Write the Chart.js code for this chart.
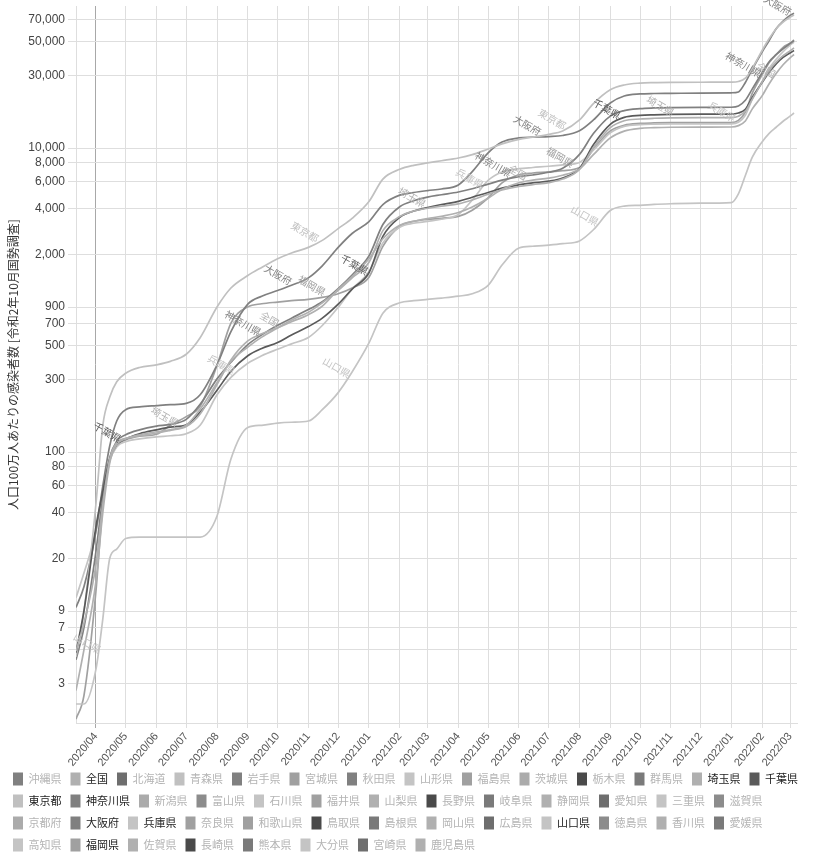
<!DOCTYPE html>
<html lang="ja">
<head>
<meta charset="utf-8">
<title>人口100万人あたりの感染者数</title>
<script src="https://cdn.jsdelivr.net/npm/chart.js@4.4.1/dist/chart.umd.min.js"></script>
<style>
  body { margin: 0; background: #fff; }
  canvas { display: block; }
</style>
</head>
<body>
<canvas id="myChart" width="815" height="852"></canvas>
<script>
'use strict';

// days the cumulative counts (per million people) were read at
let sampleDates = [
  '2020-03-12', '2020-03-20', '2020-04-01', '2020-04-08', '2020-04-15', '2020-04-22',
  '2020-05-01', '2020-05-15', '2020-06-01', '2020-06-15', '2020-07-01', '2020-07-15',
  '2020-08-01', '2020-08-15', '2020-09-01', '2020-09-15', '2020-10-01', '2020-10-15',
  '2020-11-01', '2020-11-15', '2020-12-01', '2020-12-15', '2021-01-01', '2021-01-15',
  '2021-02-01', '2021-02-15', '2021-03-01', '2021-03-15', '2021-04-01', '2021-04-15',
  '2021-05-01', '2021-05-15', '2021-06-01', '2021-06-15', '2021-07-01', '2021-07-15',
  '2021-08-01', '2021-08-15', '2021-09-01', '2021-09-15', '2021-10-01', '2021-10-15',
  '2021-11-01', '2021-12-01', '2022-01-01', '2022-01-08', '2022-01-15', '2022-01-22',
  '2022-02-01', '2022-02-08', '2022-02-15', '2022-02-22', '2022-03-01', '2022-03-05'
];

let zenkoku = [4.9, 7.5, 18, 45, 90, 115, 123, 128, 133, 139, 147, 178, 278, 404, 539, 600, 658, 720, 801, 912, 1174, 1427, 1871, 2530, 3109, 3290, 3434, 3560, 3767, 4100, 4679, 5350, 5908, 6150, 6344, 6620, 7296, 9040, 11660, 12930, 13480, 13620, 13700, 13730, 13760, 14050, 15070, 18100, 22130, 26500, 30930, 35300, 39250, 41240];
let saitama = [2.7, 5, 14, 40, 85, 112, 122, 130, 136, 140, 150, 191, 286, 395, 490, 570, 654, 740, 831, 960, 1158, 1400, 1771, 2861, 3542, 3850, 4019, 4150, 4292, 4550, 4973, 5300, 5586, 5750, 5926, 6250, 7221, 10080, 13620, 15120, 15530, 15700, 15800, 15850, 15870, 16200, 17440, 21000, 27250, 32500, 36780, 40500, 43600, 45600];
let chiba = [4.8, 9, 32, 55, 90, 112, 122, 132, 140, 146, 151, 183, 255, 340, 430, 480, 525, 590, 669, 760, 939, 1180, 1513, 2627, 3503, 3850, 4060, 4250, 4459, 4750, 5096, 5450, 5732, 5900, 6051, 6350, 7325, 10510, 14330, 15920, 16400, 16550, 16650, 16700, 16720, 17000, 17990, 21500, 27070, 31500, 35830, 39500, 42200, 43800];
let tokyo = [4.5, 9, 45, 150, 230, 290, 330, 360, 375, 395, 440, 565, 900, 1200, 1450, 1640, 1870, 2040, 2220, 2470, 2950, 3450, 4450, 6250, 7250, 7700, 7980, 8250, 8600, 9050, 9850, 10650, 11400, 11800, 12300, 12950, 15300, 19600, 24200, 26000, 26750, 26950, 27050, 27100, 27150, 27400, 28800, 33500, 44000, 52500, 61000, 67500, 72500, 75000];
let kanagawa = [4.3, 7, 22, 50, 92, 118, 130, 140, 148, 152, 164, 206, 303, 390, 509, 590, 682, 760, 866, 974, 1190, 1460, 1950, 3140, 4110, 4500, 4760, 4930, 5140, 5400, 5790, 6150, 6490, 6650, 6930, 7360, 9090, 12450, 16230, 17640, 18180, 18350, 18450, 18500, 18550, 18900, 20600, 24500, 31400, 37000, 41100, 45000, 48700, 50900];
let osaka = [9.5, 13, 30, 60, 110, 160, 190, 198, 202, 205, 209, 238, 375, 620, 940, 1060, 1155, 1250, 1400, 1680, 2220, 2740, 3280, 4250, 4900, 5100, 5250, 5380, 5720, 7000, 9300, 10950, 11650, 11800, 11900, 12100, 13000, 15300, 19800, 22000, 22700, 22850, 22900, 23000, 23100, 23400, 27000, 33000, 43000, 51000, 61000, 68500, 74500, 77000];
let hyogo = [11, 16, 30, 55, 88, 108, 117, 122, 126, 128, 132, 150, 238, 310, 384, 430, 475, 515, 567, 680, 896, 1180, 1536, 2377, 3017, 3200, 3291, 3400, 3657, 4550, 6124, 6950, 7313, 7450, 7587, 7750, 8044, 9689, 12610, 13890, 14260, 14350, 14400, 14420, 14440, 14800, 16450, 21000, 27420, 33500, 38390, 43000, 47530, 49730];
let yamaguchi = [2.2, 2.2, 3.7, 8, 20, 23, 27, 27.6, 27.6, 27.6, 27.6, 27.6, 38, 90, 145, 150, 155, 157, 160, 190, 246, 336, 522, 820, 960, 990, 1010, 1030, 1060, 1100, 1250, 1700, 2200, 2260, 2300, 2350, 2450, 2900, 3880, 4150, 4200, 4260, 4300, 4340, 4380, 5000, 6600, 8700, 11000, 12500, 13700, 15000, 16200, 17000];
let fukuoka = [1.75, 2.5, 12, 45, 88, 110, 120, 127, 131, 150, 171, 200, 372, 706, 902, 945, 970, 990, 1010, 1040, 1100, 1200, 1412, 2255, 3059, 3300, 3392, 3450, 3549, 3900, 4706, 5900, 6667, 6850, 6961, 7100, 7451, 9804, 12940, 14120, 14510, 14620, 14680, 14700, 14710, 15200, 17250, 23000, 30390, 36500, 41180, 46000, 49020, 51370];

let monthTicks = [
  '2020/04', '2020/05', '2020/06', '2020/07', '2020/08', '2020/09', '2020/10', '2020/11',
  '2020/12', '2021/01', '2021/02', '2021/03', '2021/04', '2021/05', '2021/06', '2021/07',
  '2021/08', '2021/09', '2021/10', '2021/11', '2021/12', '2022/01', '2022/02', '2022/03'
];
let yTicks = [3, 5, 7, 9, 20, 40, 60, 80, 100, 300, 500, 700, 900, 2000, 4000, 6000, 8000, 10000, 30000, 50000, 70000];

// legend order: every prefecture, only some of them have a line
let prefNames = [
  '沖縄県', '全国', '北海道', '青森県', '岩手県', '宮城県', '秋田県', '山形県', '福島県', '茨城県', '栃木県', '群馬県', '埼玉県', '千葉県',
  '東京都', '神奈川県', '新潟県', '富山県', '石川県', '福井県', '山梨県', '長野県', '岐阜県', '静岡県', '愛知県', '三重県', '滋賀県',
  '京都府', '大阪府', '兵庫県', '奈良県', '和歌山県', '鳥取県', '島根県', '岡山県', '広島県', '山口県', '徳島県', '香川県', '愛媛県',
  '高知県', '福岡県', '佐賀県', '長崎県', '熊本県', '大分県', '宮崎県', '鹿児島県'
];
let prefShades = [
  '#808080', '#b0b0b0', '#6e6e6e', '#c0c0c0', '#808080', '#a0a0a0', '#808080', '#c4c4c4', '#a0a0a0', '#ababab', '#4a4a4a', '#7a7a7a', '#b0b0b0', '#5a5a5a',
  '#c0c0c0', '#808080', '#ababab', '#8c8c8c', '#c4c4c4', '#a0a0a0', '#b0b0b0', '#4a4a4a', '#7a7a7a', '#b0b0b0', '#6e6e6e', '#c4c4c4', '#8c8c8c',
  '#ababab', '#808080', '#c4c4c4', '#a0a0a0', '#a0a0a0', '#4a4a4a', '#7a7a7a', '#b0b0b0', '#6e6e6e', '#c4c4c4', '#8c8c8c', '#b0b0b0', '#7a7a7a',
  '#c4c4c4', '#a0a0a0', '#b0b0b0', '#4a4a4a', '#7a7a7a', '#c4c4c4', '#6e6e6e', '#b0b0b0'
];

let lineSeries = {
  '全国': zenkoku, '埼玉県': saitama, '千葉県': chiba, '東京都': tokyo, '神奈川県': kanagawa,
  '大阪府': osaka, '兵庫県': hyogo, '山口県': yamaguchi, '福岡県': fukuoka
};

// days (from 2020-04-01) where the name is written next to its line
let tagDays = {
  '全国': [181, 431, 681], '埼玉県': [80, 329, 579], '千葉県': [22, 271, 525],
  '東京都': [221, 470], '神奈川県': [163, 415, 667], '大阪府': [194, 445, 697],
  '兵庫県': [137, 387, 641], '山口県': [2, 253, 503], '福岡県': [228, 478]
};

function dayOf(text) {
  let parts = text.split(/[-\/]/).map(Number);
  let day = parts[2] || 1;
  return Math.round((Date.UTC(parts[0], parts[1] - 1, day) - Date.UTC(2020, 3, 1)) / 86400000);
}

let sampleDays = sampleDates.map(dayOf);
let monthDays = monthTicks.map(dayOf);

let allSets = prefNames.map(function (name, i) {
  let values = lineSeries[name];
  return {
    label: name,
    data: values ? values.map((v, j) => ({ x: sampleDays[j], y: v })) : [],
    borderColor: prefShades[i],
    backgroundColor: prefShades[i],
    borderWidth: 1.7,
    pointRadius: 0,
    pointHoverRadius: 0,
    cubicInterpolationMode: 'monotone',
    tagDays: tagDays[name] || [],
    shown: !!values
  };
});

// prefecture names written along the lines
let lineTags = {
  id: 'lineTags',
  afterDatasetsDraw(chart) {
    let ctx = chart.ctx;
    let xScale = chart.scales.x;
    chart.data.datasets.forEach(function (ds, i) {
      let pts = chart.getDatasetMeta(i).data;
      ds.tagDays.forEach(function (day) {
        let px = xScale.getPixelForValue(day);
        for (let k = 1; k < pts.length; k++) {
          if (pts[k].x >= px) {
            let a = pts[k - 1];
            let b = pts[k];
            let py = a.y + (b.y - a.y) * (px - a.x) / (b.x - a.x);
            ctx.save();
            ctx.translate(px, py);
            ctx.rotate(Math.PI / 6);
            ctx.font = '10px "Noto Sans CJK JP"';
            ctx.fillStyle = ds.borderColor;
            ctx.textAlign = 'right';
            ctx.textBaseline = 'bottom';
            ctx.fillText(ds.label, 0, 0);
            ctx.restore();
            break;
          }
        }
      });
    });
  }
};

// legend sits a little lower than chart.js puts it, and the month labels
// need room below the short x axis box so they are not clipped
let legendDrop = {
  id: 'legendDrop',
  afterLayout(chart) {
    chart.legend.top += 9.5;
    chart.legend.bottom += 9.5;
    let xs = chart.scales.x;
    xs.bottom = xs.top + 60;
    xs.height = 60;
  }
};

Chart.defaults.font.family = '"Liberation Sans", Arial, sans-serif';

let ctx = document.getElementById('myChart').getContext('2d');
new Chart(ctx, { // eslint-disable-line
  type: 'line',
  data: { datasets: allSets },
  plugins: [lineTags, legendDrop],
  options: {
    responsive: false,
    animation: false,
    events: [],
    layout: { padding: { left: 4, right: 0, top: 6, bottom: 0 } },
    scales: {
      x: {
        type: 'linear',
        min: dayOf('2020-03-12'),
        max: dayOf('2022-03-08'),
        afterBuildTicks: function (scale) {
          scale.ticks = monthDays.map(v => ({ value: v }));
        },
        afterFit: function (scale) {
          scale.height = 31;
          scale.paddingLeft = 0;
          scale.paddingRight = 18;
        },
        ticks: {
          autoSkip: false,
          minRotation: 50,
          maxRotation: 50,
          padding: 2,
          color: '#555',
          font: { size: 11 },
          callback: function (value, index) {
            return monthTicks[index];
          }
        },
        grid: {
          color: c => (c.index === 0 ? '#a8a8a8' : '#dedede'),
          tickLength: 5
        },
        border: { color: '#dedede' }
      },
      y: {
        type: 'logarithmic',
        min: 1.65,
        max: 86000,
        afterBuildTicks: function (scale) {
          scale.ticks = yTicks.map(v => ({ value: v }));
        },
        afterFit: function (scale) {
          scale.width = 72;
          scale.paddingTop = 0;
          scale.paddingBottom = 0;
        },
        ticks: {
          autoSkip: false,
          major: { enabled: false },
          padding: 3,
          color: '#444',
          font: { size: 12 },
          callback: function (value) {
            return Number(value).toLocaleString('en-US');
          }
        },
        grid: { color: '#dedede', tickLength: 8 },
        border: { color: '#dedede' },
        title: {
          display: true,
          text: '人口100万人あたりの感染者数 [令和2年10月国勢調査]',
          color: '#333',
          font: { size: 12, family: '"Noto Sans CJK JP"' },
          padding: { top: 2, bottom: 0 }
        }
      }
    },
    plugins: {
      tooltip: { enabled: false },
      legend: {
        position: 'bottom',
        align: 'start',
        onClick: null,
        labels: {
          boxWidth: 10,
          boxHeight: 13,
          padding: 9,
          font: { size: 11, family: '"Noto Sans CJK JP"' },
          generateLabels: function (chart) {
            return chart.data.datasets.map(function (ds, i) {
              return {
                text: ds.label,
                fillStyle: ds.backgroundColor,
                strokeStyle: ds.backgroundColor,
                lineWidth: 0,
                hidden: false,
                datasetIndex: i,
                fontColor: ds.shown ? '#222' : '#b4b4b4'
              };
            });
          }
        }
      }
    }
  }
});
</script>
</body>
</html>
